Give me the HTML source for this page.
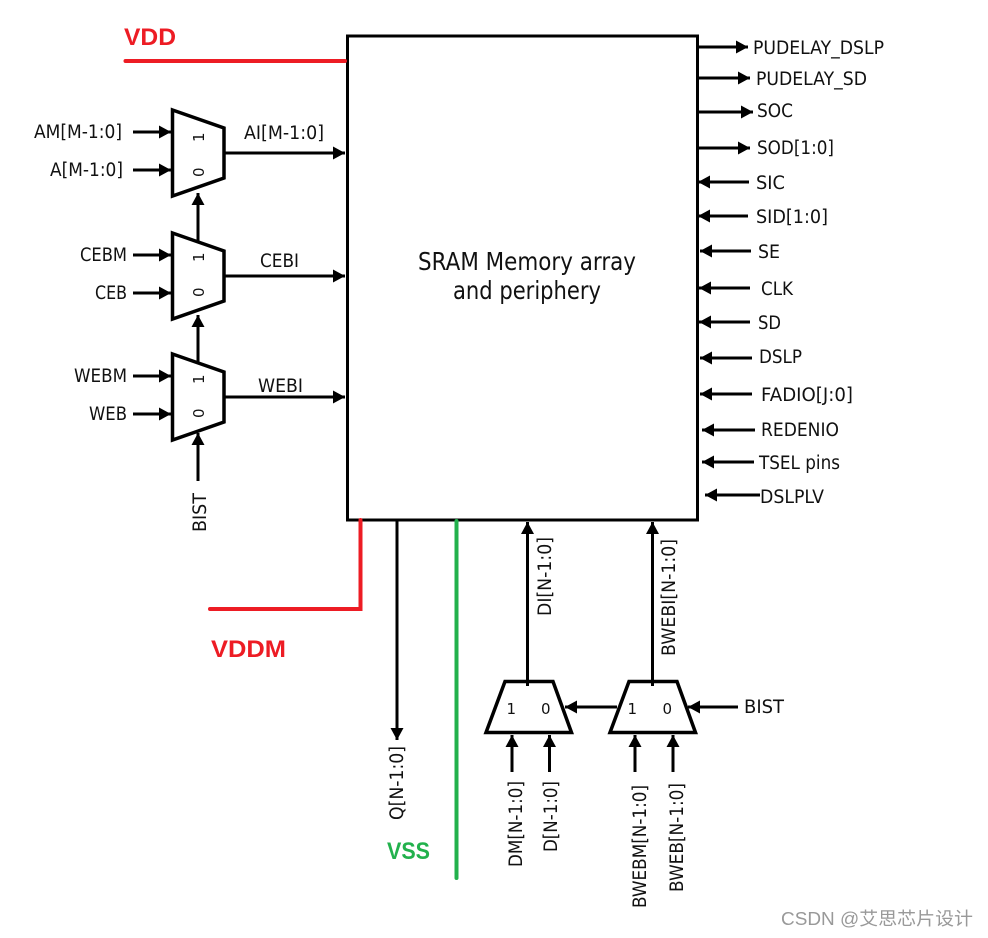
<!DOCTYPE html>
<html><head><meta charset="utf-8"><style>
html,body{margin:0;padding:0;background:#fff;width:988px;height:938px;overflow:hidden}
svg{display:block}
text{font-family:"DejaVu Sans","Liberation Sans",sans-serif;font-size:18.5px;fill:#111}
.b{font-family:"Liberation Sans",sans-serif;font-weight:bold;font-size:24px}
.m{font-size:15px;font-family:"DejaVu Sans",sans-serif}
.l{stroke:#000;stroke-width:3;fill:none}
.a{stroke:#000;stroke-width:3;fill:none;marker-end:url(#h)}
.mx{stroke:#000;stroke-width:3.5;fill:#fff;stroke-linejoin:miter}
</style></head><body>
<svg width="988" height="938" viewBox="0 0 988 938" xmlns="http://www.w3.org/2000/svg">
<defs><marker id="h" markerUnits="userSpaceOnUse" markerWidth="13" markerHeight="14" refX="12" refY="6.500" orient="auto"><path d="M0,0L12,6.500L0,13Z" fill="#000"/></marker></defs>
<rect x="347.500" y="36" width="350" height="484" fill="#fff" stroke="#000" stroke-width="3"/>

<!-- Power rails -->
<path d="M125.500,61H345" stroke="#ed1c24" stroke-width="4" stroke-linecap="round" fill="none"/>
<path d="M360.500,520V609H210" stroke="#ed1c24" stroke-width="4" fill="none" stroke-linecap="round"/>
<path d="M456.500,521V878" stroke="#22b14c" stroke-width="4" stroke-linecap="round" fill="none"/>
<text class="b" x="124" y="45" textLength="52" lengthAdjust="spacingAndGlyphs" style="fill:#ed1c24">VDD</text>
<text class="b" x="211" y="657" textLength="75" lengthAdjust="spacingAndGlyphs" style="fill:#ed1c24">VDDM</text>
<text class="b" x="387" y="859" textLength="43" lengthAdjust="spacingAndGlyphs" style="fill:#22b14c">VSS</text>

<!-- Left muxes -->
<polygon class="mx" points="172.500,110 224,128 224,178 172.500,196"/>
<polygon class="mx" points="172.500,233 224,251 224,301 172.500,319"/>
<polygon class="mx" points="172.500,354 224,372 224,422 172.500,440"/>

<!-- Left input arrows -->
<path class="a" d="M133,132H171"/><path class="a" d="M133,170H171"/>
<path class="a" d="M133,255H171"/><path class="a" d="M133,293H171"/>
<path class="a" d="M133,376H171"/><path class="a" d="M133,414H171"/>
<path class="a" d="M198,241V193"/><path class="a" d="M198,362V315"/><path class="a" d="M198,481V433"/>
<path class="a" d="M225,153H345"/><path class="a" d="M225,276H345"/><path class="a" d="M225,397H345"/>

<text class="m" transform="translate(204,142) rotate(-90)">1</text>
<text class="m" transform="translate(204,177) rotate(-90)">0</text>
<text class="m" transform="translate(204,262) rotate(-90)">1</text>
<text class="m" transform="translate(204,297) rotate(-90)">0</text>
<text class="m" transform="translate(204,384) rotate(-90)">1</text>
<text class="m" transform="translate(204,418) rotate(-90)">0</text>

<!-- Left labels -->
<text x="34" y="138" textLength="88" lengthAdjust="spacingAndGlyphs">AM[M-1:0]</text>
<text x="50" y="176" textLength="73" lengthAdjust="spacingAndGlyphs">A[M-1:0]</text>
<text x="80" y="261" textLength="47" lengthAdjust="spacingAndGlyphs">CEBM</text>
<text x="95" y="299" textLength="32" lengthAdjust="spacingAndGlyphs">CEB</text>
<text x="74" y="382" textLength="53" lengthAdjust="spacingAndGlyphs">WEBM</text>
<text x="89" y="420" textLength="38" lengthAdjust="spacingAndGlyphs">WEB</text>
<text x="244" y="139" textLength="80" lengthAdjust="spacingAndGlyphs">AI[M-1:0]</text>
<text x="260" y="267" textLength="39" lengthAdjust="spacingAndGlyphs">CEBI</text>
<text x="258" y="392" textLength="45" lengthAdjust="spacingAndGlyphs">WEBI</text>
<text transform="translate(206,532) rotate(-90)" textLength="39" lengthAdjust="spacingAndGlyphs">BIST</text>

<!-- Center -->
<text x="418" y="270" textLength="218" lengthAdjust="spacingAndGlyphs" style="font-size:24.5px">SRAM Memory array</text>
<text x="453" y="299" textLength="148" lengthAdjust="spacingAndGlyphs" style="font-size:24.5px">and periphery</text>

<!-- Right outputs -->
<path class="a" d="M697,47H748"/><path class="a" d="M697,78H750"/><path class="a" d="M697,112H753"/><path class="a" d="M697,148H750"/>
<path class="a" d="M749,182H698"/><path class="a" d="M748,216H698"/><path class="a" d="M751,251H700"/>
<path class="a" d="M750,288H699"/><path class="a" d="M750,322H699"/><path class="a" d="M752,358H700"/>
<path class="a" d="M752,394H700"/><path class="a" d="M755,430H702"/><path class="a" d="M754,462H702"/><path class="a" d="M760,495H705"/>

<text x="753" y="54" textLength="131" lengthAdjust="spacingAndGlyphs">PUDELAY_DSLP</text>
<text x="756" y="85" textLength="111" lengthAdjust="spacingAndGlyphs">PUDELAY_SD</text>
<text x="757" y="117" textLength="36" lengthAdjust="spacingAndGlyphs">SOC</text>
<text x="757" y="154" textLength="77" lengthAdjust="spacingAndGlyphs">SOD[1:0]</text>
<text x="756" y="189" textLength="29" lengthAdjust="spacingAndGlyphs">SIC</text>
<text x="756" y="223" textLength="72" lengthAdjust="spacingAndGlyphs">SID[1:0]</text>
<text x="758" y="258" textLength="22" lengthAdjust="spacingAndGlyphs">SE</text>
<text x="761" y="295" textLength="32" lengthAdjust="spacingAndGlyphs">CLK</text>
<text x="758" y="329" textLength="23" lengthAdjust="spacingAndGlyphs">SD</text>
<text x="759" y="363" textLength="43" lengthAdjust="spacingAndGlyphs">DSLP</text>
<text x="761" y="401" textLength="92" lengthAdjust="spacingAndGlyphs">FADIO[J:0]</text>
<text x="761" y="436" textLength="78" lengthAdjust="spacingAndGlyphs">REDENIO</text>
<text x="759" y="469" textLength="81" lengthAdjust="spacingAndGlyphs">TSEL pins</text>
<text x="760" y="503" textLength="64" lengthAdjust="spacingAndGlyphs">DSLPLV</text>

<!-- Bottom connectors -->
<path class="a" d="M397,520V740"/>
<path class="a" d="M527.500,686V522"/>
<path class="a" d="M652.500,686V522"/>
<text transform="translate(403,820) rotate(-90)" textLength="74" lengthAdjust="spacingAndGlyphs">Q[N-1:0]</text>
<text transform="translate(551,616) rotate(-90)" textLength="79" lengthAdjust="spacingAndGlyphs">DI[N-1:0]</text>
<text transform="translate(675,656) rotate(-90)" textLength="117" lengthAdjust="spacingAndGlyphs">BWEBI[N-1:0]</text>

<!-- Bottom muxes -->
<polygon class="mx" points="505,681.500 553,681.500 571.500,732.500 486,732.500" style="fill:none"/>
<polygon class="mx" points="629,681.500 677,681.500 695.500,732.500 610,732.500" style="fill:none"/>
<path class="a" d="M617,707H565"/>
<path class="a" d="M738,707H688"/>
<path class="a" d="M512,772V735"/><path class="a" d="M549.500,772V735"/><path class="a" d="M635,772V735"/><path class="a" d="M673,772V735"/>
<text class="m" x="506.500" y="714">1</text><text class="m" x="541" y="714">0</text>
<text class="m" x="627.500" y="714">1</text><text class="m" x="662.500" y="714">0</text>
<text x="744" y="713" textLength="40" lengthAdjust="spacingAndGlyphs">BIST</text>
<text transform="translate(522,867) rotate(-90)" textLength="86" lengthAdjust="spacingAndGlyphs">DM[N-1:0]</text>
<text transform="translate(557,852) rotate(-90)" textLength="71" lengthAdjust="spacingAndGlyphs">D[N-1:0]</text>
<text transform="translate(646,908) rotate(-90)" textLength="123" lengthAdjust="spacingAndGlyphs">BWEBM[N-1:0]</text>
<text transform="translate(683,892) rotate(-90)" textLength="109" lengthAdjust="spacingAndGlyphs">BWEB[N-1:0]</text>

<!-- Watermark -->
<text x="781" y="925" textLength="192" lengthAdjust="spacingAndGlyphs" style="font-family:'Liberation Sans','Noto Sans CJK SC',sans-serif;font-size:18px;fill:#999">CSDN @艾思芯片设计</text>
</svg>
</body></html>
